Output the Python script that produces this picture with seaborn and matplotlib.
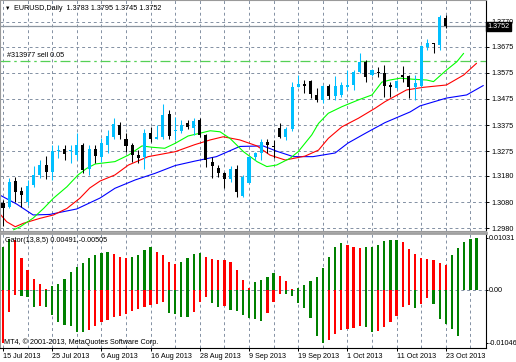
import numpy as np
import matplotlib
matplotlib.use("Agg")
import matplotlib.pyplot as plt
import matplotlib.transforms as mtrans
import seaborn as sns

# EURUSD daily candles, 15 Jul 2013 .. 23 Oct 2013
opens = [1.3077, 1.3063, 1.3162, 1.3123, 1.3082, 1.3146, 1.3184, 1.3222, 1.3196, 1.3276,
         1.3283, 1.3277, 1.3260, 1.3299, 1.3206, 1.3283, 1.3254, 1.3299, 1.3330, 1.3375,
         1.3320, 1.3299, 1.3260, 1.3254, 1.3346, 1.3323, 1.3330, 1.3417, 1.3352, 1.3353,
         1.3381, 1.3362, 1.3394, 1.3337, 1.3235, 1.3209, 1.3190, 1.3167, 1.3206, 1.3104,
         1.3154, 1.3252, 1.3269, 1.3311, 1.3296, 1.3362, 1.3328, 1.3359, 1.3521, 1.3531,
         1.3544, 1.3490, 1.3471, 1.3524, 1.3486, 1.3490, 1.3521, 1.3528, 1.3579, 1.3617,
         1.3566, 1.3579, 1.3575, 1.3528, 1.3515, 1.3566, 1.3562, 1.3519, 1.3524, 1.3674,
         1.3690, 1.3681, 1.3783]
highs = [1.3088, 1.3172, 1.3176, 1.3139, 1.3165, 1.3218, 1.3241, 1.3257, 1.3299, 1.3299,
         1.3299, 1.3299, 1.3346, 1.3306, 1.3299, 1.3299, 1.3324, 1.3356, 1.3401, 1.3388,
         1.3343, 1.3305, 1.3279, 1.3359, 1.3366, 1.3375, 1.3454, 1.3432, 1.3407, 1.3394,
         1.3394, 1.3401, 1.3401, 1.3341, 1.3252, 1.3222, 1.3196, 1.3218, 1.3222, 1.3184,
         1.3257, 1.3273, 1.3320, 1.3320, 1.3318, 1.3384, 1.3368, 1.3541, 1.3566, 1.3547,
         1.3547, 1.3518, 1.3528, 1.3532, 1.3562, 1.3541, 1.3585, 1.3585, 1.3649, 1.3624,
         1.3588, 1.3598, 1.3604, 1.3541, 1.3547, 1.3601, 1.3566, 1.3566, 1.3681, 1.3703,
         1.3690, 1.3796, 1.3795]
lows = [1.2989, 1.3058, 1.3082, 1.3063, 1.3069, 1.3139, 1.3172, 1.3169, 1.3165, 1.3248,
        1.3241, 1.3229, 1.3241, 1.3190, 1.3184, 1.3230, 1.3235, 1.3267, 1.3320, 1.3320,
        1.3273, 1.3235, 1.3229, 1.3206, 1.3311, 1.3320, 1.3320, 1.3320, 1.3318, 1.3343,
        1.3359, 1.3337, 1.3328, 1.3216, 1.3171, 1.3175, 1.3133, 1.3158, 1.3101, 1.3101,
        1.3152, 1.3241, 1.3241, 1.3267, 1.3248, 1.3324, 1.3318, 1.3353, 1.3519, 1.3496,
        1.3477, 1.3464, 1.3458, 1.3473, 1.3471, 1.3483, 1.3509, 1.3509, 1.3573, 1.3541,
        1.3562, 1.3557, 1.3483, 1.3483, 1.3512, 1.3541, 1.3477, 1.3471, 1.3519, 1.3662,
        1.3651, 1.3662, 1.3745]
closes = [1.3058, 1.3158, 1.3120, 1.3107, 1.3142, 1.3184, 1.3222, 1.3196, 1.3277, 1.3279,
          1.3264, 1.3279, 1.3299, 1.3203, 1.3283, 1.3257, 1.3305, 1.3333, 1.3379, 1.3337,
          1.3295, 1.3260, 1.3248, 1.3346, 1.3321, 1.3330, 1.3413, 1.3333, 1.3356, 1.3375,
          1.3366, 1.3391, 1.3337, 1.3241, 1.3218, 1.3190, 1.3167, 1.3206, 1.3120, 1.3177,
          1.3252, 1.3267, 1.3311, 1.3299, 1.3290, 1.3330, 1.3359, 1.3521, 1.3531, 1.3525,
          1.3494, 1.3471, 1.3524, 1.3486, 1.3524, 1.3528, 1.3528, 1.3579, 1.3617, 1.3557,
          1.3585, 1.3575, 1.3524, 1.3519, 1.3543, 1.3560, 1.3519, 1.3537, 1.3677, 1.3690,
          1.3685, 1.3787, 1.3752]

# alligator lines (bar index, price)
jaw_bar = [-0.5, 2.2, 4.9, 7.6, 12.0, 15.8, 18.2, 21.5, 24.7, 28.0, 31.2, 34.7, 38.5, 42.3,
           44.6, 47.2, 50.4, 54.0, 56.1, 58.9, 62.1, 66.2, 67.8, 72.1, 75.4, 78.1]
jaw_val = [1.3107, 1.3073, 1.3031, 1.3033, 1.3054, 1.3096, 1.3133, 1.3165, 1.3190, 1.3220,
           1.3237, 1.3254, 1.3293, 1.3295, 1.3274, 1.3254, 1.3254, 1.3268, 1.3306, 1.3343,
           1.3384, 1.3425, 1.3448, 1.3478, 1.3490, 1.3526]
teeth_bar = [-0.5, 0.6, 2.0, 3.3, 6.0, 8.2, 10.4, 12.5, 14.1, 15.8, 18.2, 20.4, 23.6, 28.0,
             31.2, 33.7, 35.8, 38.5, 41.3, 43.4, 45.9, 49.1, 51.3, 52.9, 55.1, 57.8, 60.5,
             62.1, 65.6, 68.3, 72.1, 74.9, 77.0]
teeth_val = [1.3035, 1.3005, 1.2986, 1.2999, 1.3018, 1.3031, 1.3056, 1.3095, 1.3134, 1.3161,
             1.3184, 1.3222, 1.3254, 1.3273, 1.3300, 1.3318, 1.3330, 1.3318, 1.3295, 1.3260,
             1.3241, 1.3256, 1.3279, 1.3324, 1.3368, 1.3401, 1.3439, 1.3464, 1.3509, 1.3519,
             1.3528, 1.3566, 1.3611]
lips_bar = [1.7, 2.8, 4.9, 6.6, 8.2, 10.4, 12.2, 13.6, 15.0, 18.2, 20.4, 22.6, 24.2, 26.3,
            28.0, 30.1, 33.7, 35.3, 36.9, 39.1, 41.3, 42.9, 44.5, 46.7, 48.0, 50.2, 51.3,
            52.9, 55.1, 57.8, 60.0, 61.6, 62.9, 64.6, 66.7, 68.9, 70.0, 72.1, 73.8, 74.9]
lips_val = [1.2974, 1.2986, 1.3019, 1.3056, 1.3095, 1.3139, 1.3184, 1.3209, 1.3226, 1.3235,
            1.3260, 1.3295, 1.3290, 1.3286, 1.3305, 1.3333, 1.3353, 1.3349, 1.3324, 1.3273,
            1.3235, 1.3216, 1.3222, 1.3248, 1.3273, 1.3337, 1.3381, 1.3420, 1.3445, 1.3471,
            1.3490, 1.3539, 1.3547, 1.3554, 1.3550, 1.3547, 1.3541, 1.3585, 1.3617, 1.3649]

# Gator(13,8,5) histogram, upper bars run 5 bars ahead, lower bars 2-3 ahead
gator_up = [0.0085, 0.0101, 0.0099, 0.0064, 0.0040, 0.0021, 0.0011, 0.0002, 0.0007, 0.0011,
            0.0021, 0.0036, 0.0046, 0.0053, 0.0063, 0.0069, 0.0074, 0.0075, 0.0071, 0.0065,
            0.0064, 0.0065, 0.0069, 0.0079, 0.0086, 0.0076, 0.0069, 0.0055, 0.0051, 0.0055,
            0.0063, 0.0071, 0.0073, 0.0066, 0.0061, 0.0060, 0.0059, 0.0055, 0.0040, 0.0020,
            0.0003, 0.0015, 0.0020, 0.0026, 0.0033, 0.0028, 0.0018, 0.0002, 0.0003, 0.0009,
            0.0018, 0.0025, 0.0044, 0.0066, 0.0086, 0.0094, 0.0089, 0.0086, 0.0084, 0.0085,
            0.0086, 0.0089, 0.0097, 0.0099, 0.0100, 0.0096, 0.0081, 0.0071, 0.0063, 0.0062,
            0.0059, 0.0053, 0.0049, 0.0069, 0.0084, 0.0096, 0.0101, 0.01031]
gator_down = [-0.0104, -0.0044, -0.0010, -0.0011, -0.0013, -0.0033, -0.0032, -0.0033, -0.0050, -0.0064,
              -0.0069, -0.0071, -0.0083, -0.0084, -0.0079, -0.0071, -0.0064, -0.0059, -0.0053, -0.0051,
              -0.0047, -0.0042, -0.0038, -0.0033, -0.0030, -0.0027, -0.0024, -0.0046, -0.0048, -0.0053,
              -0.0054, -0.0043, -0.0023, -0.0013, -0.0025, -0.0033, -0.0032, -0.0040, -0.0042, -0.0050,
              -0.0055, -0.0058, -0.0061, -0.0046, -0.0023, -0.0007, -0.0008, -0.0011, -0.0026, -0.0036,
              -0.0056, -0.0091, -0.01046, -0.0099, -0.0088, -0.0079, -0.0077, -0.0075, -0.0071, -0.0073,
              -0.0083, -0.0081, -0.0073, -0.0063, -0.0051, -0.0033, -0.0030, -0.0036, -0.0028, -0.0015,
              -0.0028, -0.0057, -0.0068, -0.0077, -0.0092]

date_labels = ["15 Jul 2013", "25 Jul 2013", "6 Aug 2013", "16 Aug 2013", "28 Aug 2013",
               "9 Sep 2013", "19 Sep 2013", "1 Oct 2013", "11 Oct 2013", "23 Oct 2013"]
price_ticks = [1.2980, 1.3080, 1.3180, 1.3275, 1.3375, 1.3475, 1.3575, 1.3675, 1.3770]
gator_ticks = [0.01031, 0.0, -0.01046]
gator_tick_labels = ["0.01031", "0.00", "-0.01046"]
bid = 1.3752
order_price = 1.3620
header = "EURUSD,Daily  1.3783 1.3795 1.3745 1.3752"
order_text = "#313977 sell 0.05"
gator_text = "Gator(13,8,5) 0.00491,-0.00505"
copyright_text = "MT4, \u00a9 2001-2013, MetaQuotes Software Corp."

sns.set_theme(style="white")
plt.rcParams["font.family"] = ["Liberation Sans", "DejaVu Sans"]
FS = 5.2
GRID = "#8390a3"
BULL = "#00bfff"

W, H = 516, 362
fig = plt.figure(figsize=(W / 100, H / 100), dpi=100)
fig.patch.set_facecolor("white")


def rect(l, t, r, b):
    return [l / W, 1 - b / H, (r - l) / W, (b - t) / H]


ax = fig.add_axes(rect(0, 0, 486, 231))
axg = fig.add_axes(rect(0, 233, 486, 348), sharex=ax)

# bar b sits at pixel 3 + 6.15*b
ax.set_xlim(-3 / 6.15, 483 / 6.15)
ax.set_ylim(1.2980 - 2.7 * 0.0003824, 1.2980 + 228.3 * 0.0003824)
axg.set_ylim(-58 / 5050, 57 / 5050)

# grid
for b in range(0, 80, 4):
    for a in (ax, axg):
        a.axvline(b, color=GRID, lw=0.7, ls=(0, (3, 3)), zorder=0)
for p in price_ticks:
    ax.axhline(p, color=GRID, lw=0.7, ls=(0, (3, 3)), zorder=0)
axg.axhline(0, color=GRID, lw=0.7, ls=(0, (3, 3)), zorder=0)

# candles
o, h, l, c = (np.array(v) for v in (opens, highs, lows, closes))
idx = np.arange(len(o))
col = np.where(c >= o, BULL, "black")
ax.vlines(idx, l, h, colors=col, lw=0.75, zorder=3)
body_lo = np.minimum(o, c)
body_h = np.maximum(np.abs(c - o), 0.0004)
ax.bar(idx, body_h, bottom=body_lo, width=0.5, color=col, linewidth=0, zorder=4)

# alligator
sns.lineplot(x=jaw_bar, y=jaw_val, ax=ax, color="#0000ff", lw=0.8, estimator=None, sort=False, zorder=2)
sns.lineplot(x=teeth_bar, y=teeth_val, ax=ax, color="#ff0000", lw=0.8, estimator=None, sort=False, zorder=2)
sns.lineplot(x=lips_bar, y=lips_val, ax=ax, color="#00ff00", lw=0.8, estimator=None, sort=False, zorder=2)

# bid and order lines
ax.axhline(bid, color="#8c96a0", lw=0.9, zorder=1)
ax.axhline(order_price, color="#55d055", lw=0.9, ls=(0, (8, 3, 2, 3)), zorder=1)
ax.text(4 / 6.15, order_price + 0.0007, order_text, fontsize=FS, color="black",
        va="bottom", ha="left")

# gator histogram: green while the gap widens, red while it narrows
up = np.array(gator_up)
dn = np.array(gator_down)
up_col = ["#008000"] + ["#008000" if up[i] > up[i - 1] else "#ff0000" for i in range(1, len(up))]
dn_col = ["#ff0000"] + ["#008000" if dn[i] < dn[i - 1] else "#ff0000" for i in range(1, len(dn))]
axg.bar(np.arange(len(up)), up, width=0.36, color=up_col, linewidth=0, zorder=3)
axg.bar(np.arange(len(dn)), dn, width=0.36, color=dn_col, linewidth=0, zorder=3)

# axes styling
for a in (ax, axg):
    a.set_facecolor("white")
    a.yaxis.tick_right()
    a.set_xlabel("")
    a.set_ylabel("")
    for s in ("left", "top", "bottom"):
        a.spines[s].set_color("#9a9a9a")
        a.spines[s].set_linewidth(0.8)
    a.spines["right"].set_color("black")
    a.spines["right"].set_linewidth(0.8)
axg.spines["top"].set_linewidth(2.0)
axg.spines["top"].set_color("#a0a0a0")
axg.spines["bottom"].set_color("black")

ax.set_yticks(price_ticks)
ax.set_yticklabels([f"{p:.4f}" for p in price_ticks])
ax.tick_params(axis="y", right=True, left=False, direction="out", length=2.5, width=0.7,
               labelsize=FS, pad=1.2, colors="black")
ax.tick_params(axis="x", bottom=False, labelbottom=False)

axg.set_yticks(gator_ticks)
axg.set_yticklabels(gator_tick_labels)
axg.tick_params(axis="y", right=True, left=False, direction="out", length=1.5, width=0.7,
                labelsize=FS, pad=0.4, colors="black")
axg.set_xticks(range(0, 80, 8))
axg.set_xticklabels(date_labels, ha="left")
axg.tick_params(axis="x", bottom=True, direction="out", length=2, width=0.7,
                labelsize=FS, pad=1.5, colors="black")
for t in axg.get_xticklabels():
    t.set_horizontalalignment("left")

# current price box
trans = mtrans.blended_transform_factory(ax.transAxes, ax.transData)
ax.text(1.003, bid, f"{bid:.4f}", transform=trans, fontsize=FS, color="white", ha="left",
        va="center", bbox=dict(boxstyle="square,pad=0.15", fc="black", ec="black"), zorder=10,
        clip_on=False)

# header texts
fig.text(5 / W, 1 - 8 / H, "\u25bc", fontsize=4, va="center", ha="left", color="black")
fig.text(14 / W, 1 - 8 / H, header, fontsize=FS, va="center", ha="left", color="black")
fig.text(5 / W, 1 - 240 / H, gator_text, fontsize=FS, va="center", ha="left", color="black")
fig.text(4 / W, 1 - 342 / H, copyright_text, fontsize=FS, va="center", ha="left", color="black")

fig.savefig("out.png", dpi=100, facecolor="white")
